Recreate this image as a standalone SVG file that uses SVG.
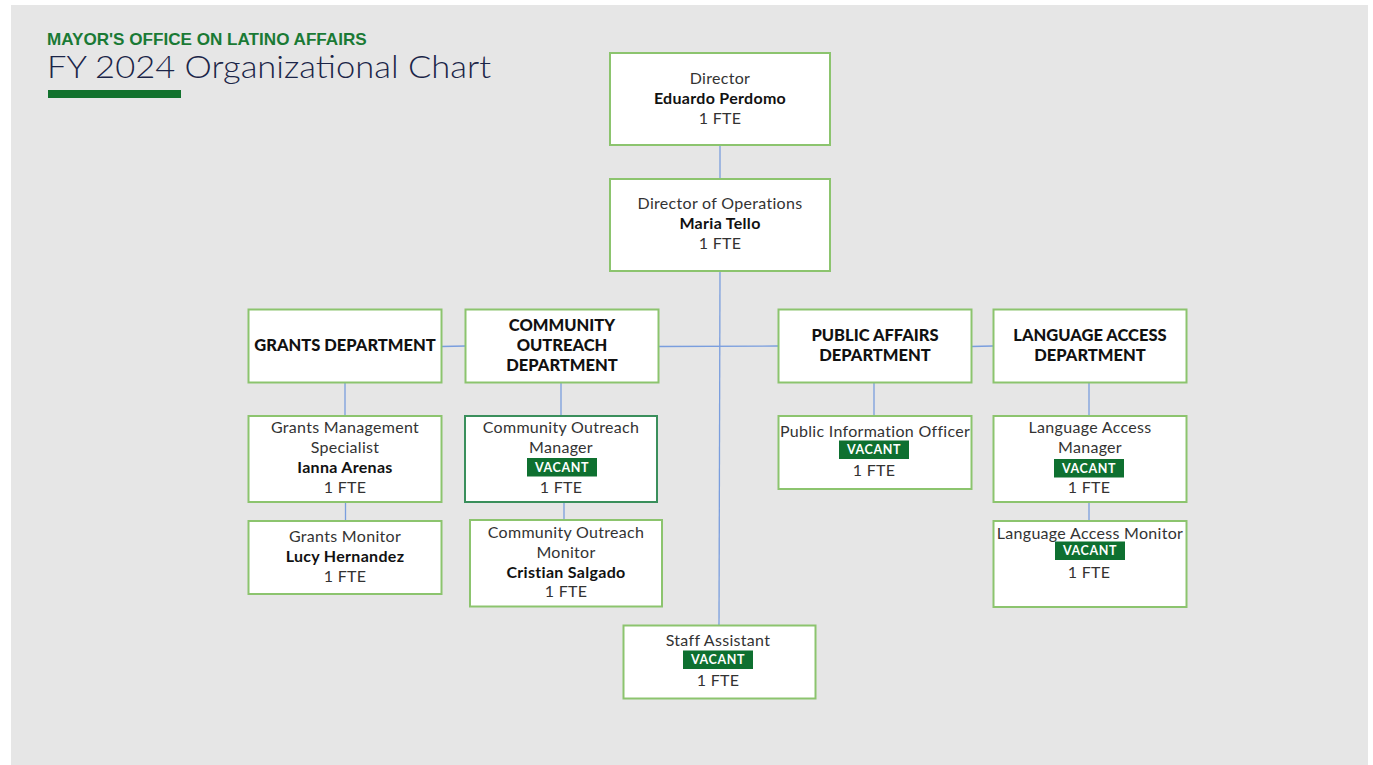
<svg xmlns="http://www.w3.org/2000/svg" width="1373" height="765" viewBox="0 0 1373 765">
<style>
.box{fill:#fff;stroke:#8cc46e;stroke-width:2}
.box2{fill:#fff;stroke:#3a8f5c;stroke-width:2}
.t{font-family:Lato,"Liberation Sans",sans-serif;font-size:16px;letter-spacing:0.3px;fill:#333;text-anchor:middle}
.b{font-family:Lato,"Liberation Sans",sans-serif;font-size:16px;letter-spacing:0.3px;font-weight:bold;fill:#111;text-anchor:middle}
.h{font-family:Lato,"Liberation Sans",sans-serif;font-size:16.5px;font-weight:900;fill:#111;text-anchor:middle}
.badge{fill:#0e7030}
.v{font-family:Lato,"Liberation Sans",sans-serif;font-size:12.5px;font-weight:bold;fill:#fff;text-anchor:middle;letter-spacing:0.6px}
.ln{stroke:#7a9ede;stroke-width:1.3;fill:none}
</style>
<rect x="0" y="0" width="1373" height="765" fill="#fff"/>
<rect x="11" y="5" width="1357" height="760" fill="#e6e6e6"/>
<g id="title">
<text x="47" y="45" font-family="'Liberation Sans',Arial,sans-serif" font-size="17.1" font-weight="bold" fill="#1a7a35">MAYOR'S OFFICE ON LATINO AFFAIRS</text>
<text x="47" y="78" font-family="Lato,'Liberation Sans',sans-serif" font-size="31" font-weight="300" fill="#1b2548" textLength="444" lengthAdjust="spacingAndGlyphs">FY 2024 Organizational Chart</text>
<rect x="48" y="90" width="133" height="8" fill="#12722e"/>
</g>
<g id="connectors">
<line class="ln" x1="720" y1="145" x2="720" y2="179"/>
<line class="ln" x1="720" y1="271" x2="719" y2="625"/>
<line class="ln" x1="441" y1="346.5" x2="466" y2="346"/>
<line class="ln" x1="658" y1="346.5" x2="778" y2="346"/>
<line class="ln" x1="971" y1="346.5" x2="993" y2="346"/>
<line class="ln" x1="345" y1="382" x2="345" y2="416"/>
<line class="ln" x1="345.5" y1="502" x2="345.5" y2="521"/>
<line class="ln" x1="561" y1="382" x2="561" y2="416"/>
<line class="ln" x1="564" y1="502" x2="564" y2="520"/>
<line class="ln" x1="874" y1="382" x2="874" y2="416"/>
<line class="ln" x1="1089" y1="382" x2="1089" y2="416"/>
<line class="ln" x1="1089" y1="502" x2="1089" y2="521"/>
</g>
<g id="director">
<rect class="box" x="610" y="53" width="220" height="92"/>
<text class="t" x="720" y="84">Director</text>
<text class="b" x="720" y="104">Eduardo Perdomo</text>
<text class="t" x="720" y="124">1 FTE</text>
</g>
<g id="dir-ops">
<rect class="box" x="610" y="179" width="220" height="92"/>
<text class="t" x="720" y="209">Director of Operations</text>
<text class="b" x="720" y="229">Maria Tello</text>
<text class="t" x="720" y="249">1 FTE</text>
</g>
<g id="grants-dept">
<rect class="box" x="248.5" y="309.5" width="193" height="73"/>
<text class="h" x="345" y="351">GRANTS DEPARTMENT</text>
</g>
<g id="community-dept">
<rect class="box" x="465.5" y="309.5" width="193" height="73"/>
<text class="h" x="562" y="331">COMMUNITY</text>
<text class="h" x="562" y="351">OUTREACH</text>
<text class="h" x="562" y="371">DEPARTMENT</text>
</g>
<g id="public-affairs-dept">
<rect class="box" x="778.5" y="309.5" width="193" height="73"/>
<text class="h" x="875" y="341">PUBLIC AFFAIRS</text>
<text class="h" x="875" y="361">DEPARTMENT</text>
</g>
<g id="language-dept">
<rect class="box" x="993.5" y="309.5" width="193" height="73"/>
<text class="h" x="1090" y="341">LANGUAGE ACCESS</text>
<text class="h" x="1090" y="361">DEPARTMENT</text>
</g>
<g id="grants-specialist">
<rect class="box" x="248.5" y="416" width="193" height="86"/>
<text class="t" x="345" y="433">Grants Management</text>
<text class="t" x="345" y="453">Specialist</text>
<text class="b" x="345" y="473">Ianna Arenas</text>
<text class="t" x="345" y="493">1 FTE</text>
</g>
<g id="grants-monitor">
<rect class="box" x="248.5" y="521" width="193" height="73"/>
<text class="t" x="345" y="542">Grants Monitor</text>
<text class="b" x="345" y="562">Lucy Hernandez</text>
<text class="t" x="345" y="582">1 FTE</text>
</g>
<g id="community-manager">
<rect class="box2" x="465" y="416" width="192" height="86"/>
<text class="t" x="561" y="433">Community Outreach</text>
<text class="t" x="561" y="453">Manager</text>
<rect class="badge" x="527" y="458" width="70" height="18.5"/>
<text class="v" x="562" y="472">VACANT</text>
<text class="t" x="561" y="493">1 FTE</text>
</g>
<g id="community-monitor">
<rect class="box" x="470" y="520" width="192" height="86.5"/>
<text class="t" x="566" y="538">Community Outreach</text>
<text class="t" x="566" y="558">Monitor</text>
<text class="b" x="566" y="578">Cristian Salgado</text>
<text class="t" x="566" y="597">1 FTE</text>
</g>
<g id="public-info-officer">
<rect class="box" x="778.5" y="416" width="193" height="73"/>
<text class="t" x="875" y="437">Public Information Officer</text>
<rect class="badge" x="839" y="440.5" width="70" height="18.5"/>
<text class="v" x="874" y="454">VACANT</text>
<text class="t" x="874" y="476">1 FTE</text>
</g>
<g id="language-manager">
<rect class="box" x="993.5" y="416" width="193" height="86"/>
<text class="t" x="1090" y="433">Language Access</text>
<text class="t" x="1090" y="453">Manager</text>
<rect class="badge" x="1054" y="459" width="70" height="18.5"/>
<text class="v" x="1089" y="473">VACANT</text>
<text class="t" x="1089" y="493">1 FTE</text>
</g>
<g id="language-monitor">
<rect class="box" x="993.5" y="521" width="193" height="86"/>
<text class="t" x="1090" y="539">Language Access Monitor</text>
<rect class="badge" x="1055" y="541.5" width="70" height="18.5"/>
<text class="v" x="1090" y="555">VACANT</text>
<text class="t" x="1089" y="578">1 FTE</text>
</g>
<g id="staff-assistant">
<rect class="box" x="623.5" y="625.5" width="192" height="73"/>
<text class="t" x="718" y="646">Staff Assistant</text>
<rect class="badge" x="683" y="650.5" width="70" height="18.5"/>
<text class="v" x="718" y="664">VACANT</text>
<text class="t" x="718" y="686">1 FTE</text>
</g>
</svg>
